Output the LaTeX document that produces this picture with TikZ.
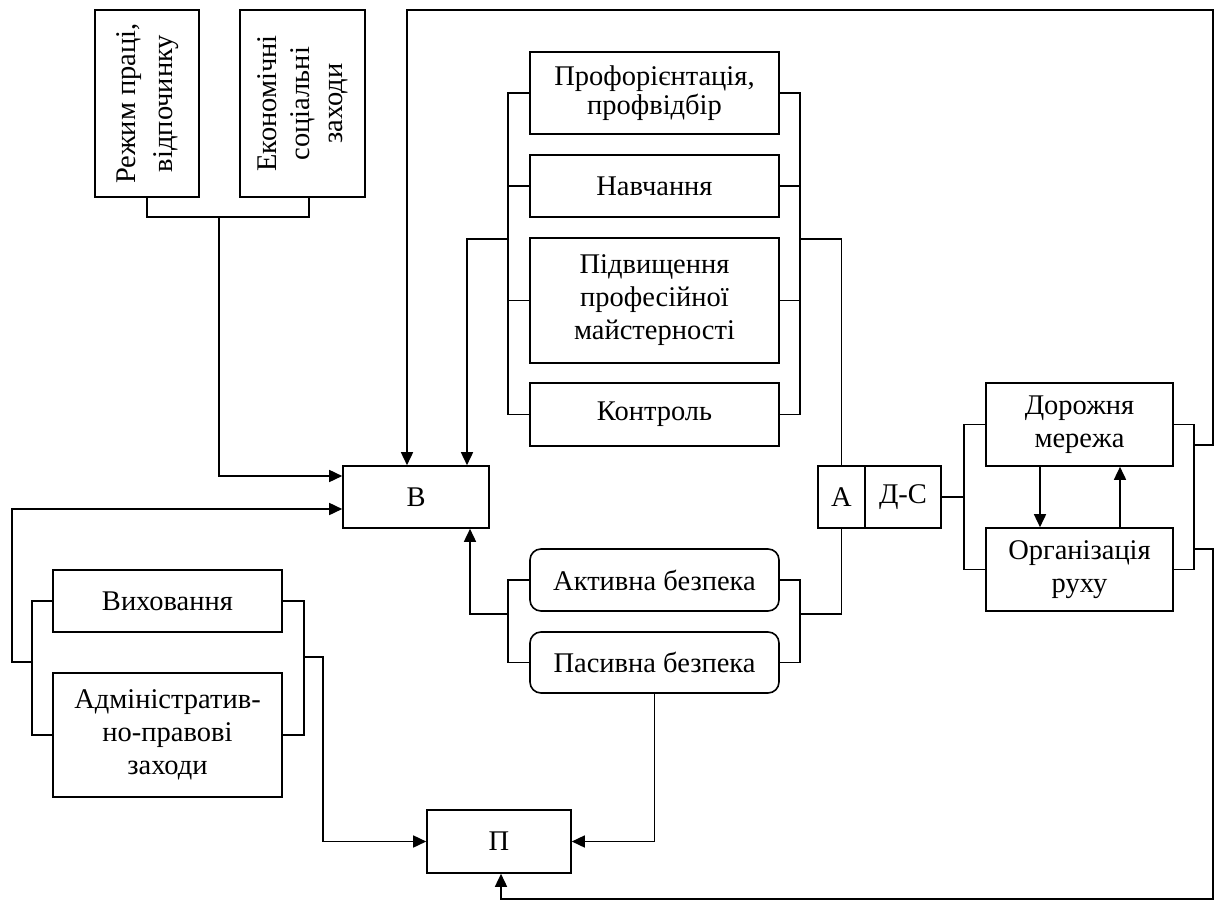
\documentclass[tikz,border=0pt]{standalone}
\usepackage{fontspec}
\setmainfont{Liberation Serif}
\usepackage{graphicx}
\usetikzlibrary{arrows.meta}
\begin{document}
\begin{tikzpicture}[x=1pt,y=-1pt,
  line width=1.6pt,
  box/.style={draw, line width=1.6pt, inner sep=0pt, align=center, font=\fontsize{28.5}{33}\selectfont},
  rbox/.style={box, rounded corners=11pt},
  arr/.style={-{Triangle[length=13pt,width=12pt]}}
]
\useasboundingbox (0,0) rectangle (1214,901);

% top-left vertical boxes
\node[box, minimum width=104pt, minimum height=187pt] (r1) at (147,103.5)
  {\def\arraystretch{1.12}\rotatebox{90}{\begin{tabular}{@{}c@{}}Режим праці,\\відпочинку\end{tabular}}};
\node[box, minimum width=125pt, minimum height=187pt] (r2) at (302.5,103.5)
  {\def\arraystretch{1.0}\rotatebox{90}{\begin{tabular}{@{}c@{}}Економічні\\соціальні\\заходи\end{tabular}}};

% main nodes
\node[box, minimum width=146pt, minimum height=62pt] (B) at (416,497) {В};
\node[box, minimum width=144pt, minimum height=63pt] (P) at (499,841.5) {П};

% middle column
\node[box, minimum width=249pt, minimum height=82pt, font=\fontsize{28.5}{29}\selectfont] (prof) at (654.5,93) {Профорієнтація,\\профвідбір};
\node[box, minimum width=249pt, minimum height=62pt] (navch) at (654.5,186) {Навчання};
\node[box, minimum width=249pt, minimum height=125pt] (pidv) at (654.5,300.5) {Підвищення\\професійної\\майстерності};
\node[box, minimum width=249pt, minimum height=63pt] (kontr) at (654.5,414.5) {Контроль};
\node[rbox, minimum width=249pt, minimum height=62pt] (akt) at (654.5,580) {Активна безпека};
\node[rbox, minimum width=249pt, minimum height=61pt] (pas) at (654.5,662.5) {Пасивна безпека};

% A / Д-С
\node[box, minimum width=47pt, minimum height=62pt] (A) at (841.5,497) {А};
\node[box, minimum width=76pt, minimum height=62pt] (DS) at (903,497) {Д-С};

% right column
\node[box, minimum width=187pt, minimum height=83pt] (dor) at (1079.5,424.5) {Дорожня\\мережа};
\node[box, minimum width=187pt, minimum height=83pt] (org) at (1079.5,569.5) {Організація\\руху};

% left column
\node[box, minimum width=229pt, minimum height=62pt] (vykh) at (167.5,601) {Виховання};
\node[box, minimum width=229pt, minimum height=124pt] (adm) at (167.5,735) {Адміністратив-\\но-правові\\заходи};

% junction coordinates
\coordinate (jr) at (219,217);
\coordinate (jl) at (33,662);
\coordinate (jr2) at (303,657);
\coordinate (jm) at (509,239);
\coordinate (jm2) at (799,239);
\coordinate (jb) at (509,614);
\coordinate (jb2) at (799,614);
\coordinate (jd) at (965,497);
\coordinate (jt) at (1193,445);
\coordinate (jbot) at (1193,549);

% top-left bracket
\draw (r1.south) |- (jr) -| ([xshift=6.5pt]r2.south);
\draw[arr] (jr) |- ([yshift=21pt]B.west);

% left group
\draw (vykh.west) -- ++(-20,0) |- (adm.west);
\draw[arr] (jl) -- ++(-21,0) |- ([yshift=-12pt]B.west);
\draw (vykh.east) -- ++(21,0) |- (adm.east);
\draw[arr] (jr2) -- ++(20,0) |- (P.west);

% middle group
\draw (prof.west) -- ++(-21,0) |- (kontr.west);
\draw (navch.west) -- ++(-21,0);
\draw (pidv.west) -- ++(-21,0);
\draw[arr] (jm) -| ([xshift=51pt]B.north);
\draw (prof.east) -- ++(20,0) |- (kontr.east);
\draw (navch.east) -- ++(20,0);
\draw (pidv.east) -- ++(20,0);
\draw (jm2) -| (A.north);

% safety group
\draw (akt.west) -- ++(-21,0) |- (pas.west);
\draw[arr] (jb) -| ([xshift=54pt]B.south);
\draw (akt.east) -- ++(20,0) |- (pas.east);
\draw (A.south) |- (jb2);
\draw[arr] (pas.south) |- (P.east);

% right group
\draw (DS.east) -- (jd);
\draw (dor.west) -- ++(-21,0) |- (org.west);
\draw (dor.east) -- ++(20,0) |- (org.east);
\draw[arr] ([xshift=-39.5pt]dor.south) -- ([xshift=-39.5pt]org.north);
\draw[arr] ([xshift=40.5pt]org.north) -- ([xshift=40.5pt]dor.south);

% outer feedback lines
\draw[arr] (jt) -- (1213,445) -- (1213,10) -| ([xshift=-9pt]B.north);
\draw[arr] (jbot) -- (1213,549) -- (1213,899) -| ([xshift=2pt]P.south);
\end{tikzpicture}
\end{document}
